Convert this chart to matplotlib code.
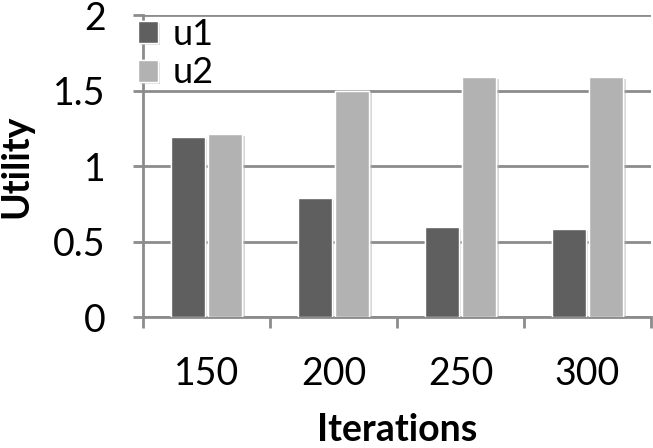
import numpy as np
import matplotlib.pyplot as plt
import matplotlib.patheffects as pe

plt.rcParams['font.family'] = ['Lato', 'DejaVu Sans']

# data
iterations = ['150', '200', '250', '300']
u1 = [1.19, 0.79, 0.60, 0.585]
u2 = [1.21, 1.50, 1.59, 1.59]

fig = plt.figure(figsize=(6.53, 4.48), dpi=100)
ax = fig.add_axes([0.219, 0.292, 0.778, 0.6745])

x = np.arange(len(iterations))
w = 0.27
shadow = [pe.withSimplePatchShadow(offset=(1.5, -1.5), shadow_rgbFace='#b0b0b0', alpha=0.5), pe.Normal()]
ax.bar(x - 0.148, u1, w, color='#5f5f5f', edgecolor='white', linewidth=1, label='u1', zorder=3,
       path_effects=shadow)
ax.bar(x + 0.148, u2, w, color='#b2b2b2', edgecolor='white', linewidth=1, label='u2', zorder=3,
       path_effects=shadow)

ax.set_xlim(-0.5, len(iterations) - 0.5)
ax.set_ylim(0, 2)
ax.set_yticks([0, 0.5, 1, 1.5, 2])
ax.set_yticklabels(['0', '0.5', '1', '1.5', '2'])
ax.set_xticks(x)
ax.set_xticklabels(iterations)
ax.set_xticks(np.arange(len(iterations) + 1) - 0.5, minor=True)

ax.grid(axis='y', color='#8c8c8c', linewidth=2, zorder=0)
for s in ['top', 'right']:
    ax.spines[s].set_visible(False)
for s in ['left', 'bottom']:
    ax.spines[s].set_color('#8c8c8c')
    ax.spines[s].set_linewidth(2)
ax.tick_params(axis='y', length=7, width=2, color='#8c8c8c', pad=20, labelsize=27)
ax.tick_params(axis='x', which='major', length=0, pad=28, labelsize=27)
ax.tick_params(axis='x', which='minor', length=8, width=2, color='#8c8c8c')

ax.set_ylabel('Utility', fontsize=27, fontweight='bold')
ax.set_xlabel('Iterations', fontsize=27, fontweight='bold', labelpad=15)
ax.yaxis.set_label_coords(-0.216, 0.5)

ax.legend(loc='upper left', bbox_to_anchor=(-0.01, 0.99), fontsize=26, frameon=False,
          handlelength=0.55, handleheight=0.55, handletextpad=0.4,
          labelspacing=0.15, borderpad=0.0, borderaxespad=0)

fig.savefig('out.png', dpi=100)
